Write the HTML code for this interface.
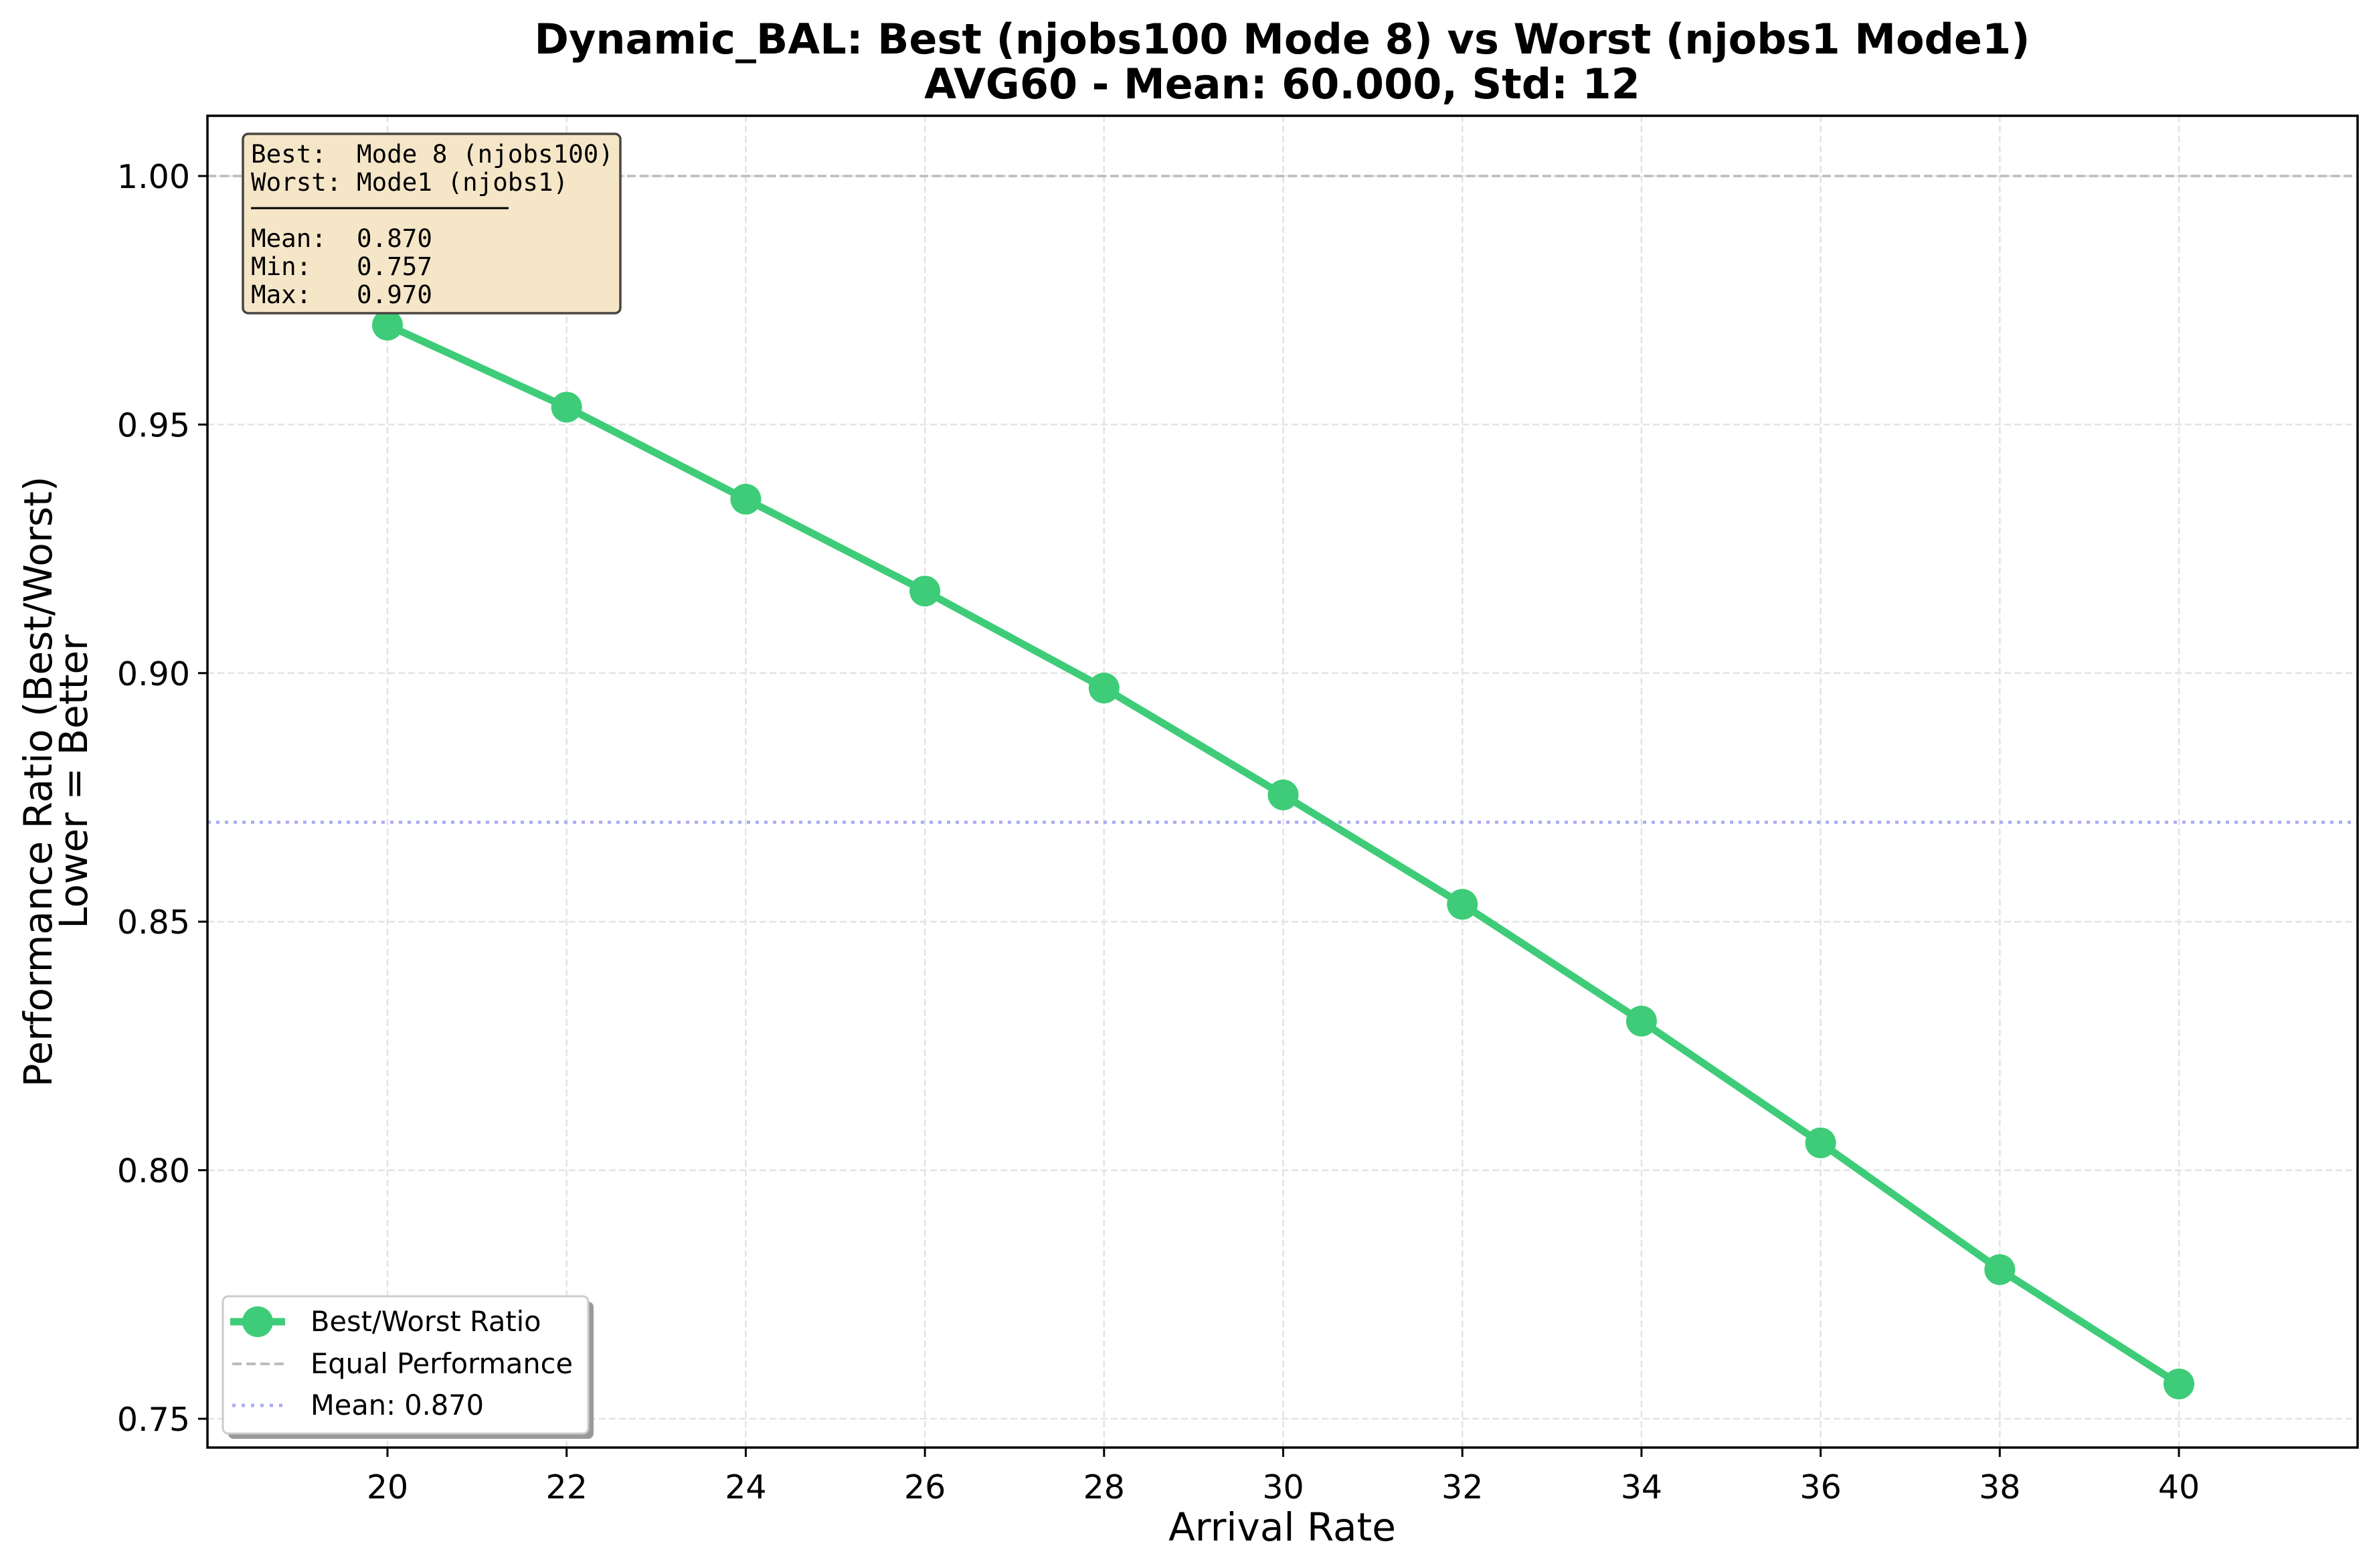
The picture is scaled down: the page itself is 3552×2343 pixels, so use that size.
<!DOCTYPE html>
<html><head><meta charset="utf-8"><style>
html,body{margin:0;padding:0;background:#fff;}
svg{display:block;font-family:"DejaVu Sans","Liberation Sans",sans-serif;}
</style></head><body>
<svg id="chart" width="3552" height="2343" viewBox="0 0 3552 2343" xmlns="http://www.w3.org/2000/svg">
<rect width="3552" height="2343" fill="#fff"/>
<g id="grid"></g>
<g id="refs"></g>
<g id="series"></g>
<rect x="310" y="173" width="3213" height="1990" fill="none" stroke="#000" stroke-width="3.5"/>
<g id="ticks"></g>
<text x="1916" y="80" font-size="62" font-weight="bold" text-anchor="middle">Dynamic_BAL: Best (njobs100 Mode 8) vs Worst (njobs1 Mode1)</text>
<text x="1916" y="147" font-size="62" font-weight="bold" text-anchor="middle">AVG60 - Mean: 60.000, Std: 12</text>
<text x="1916" y="2302" font-size="58" text-anchor="middle">Arrival Rate</text>
<g transform="translate(0,1168) rotate(-90)">
<text x="0" y="77" font-size="58" text-anchor="middle">Performance Ratio (Best/Worst)</text>
<text x="0" y="130" font-size="58" text-anchor="middle">Lower = Better</text>
</g>
<g>
<rect x="363" y="200" width="564" height="268" rx="8" fill="#f5e6c8" stroke="#4a4540" stroke-width="3.5"/>
<g font-family="'DejaVu Sans Mono','Liberation Mono',monospace" font-size="37.5" fill="#000">
<text x="375" y="243" xml:space="preserve">Best:  Mode 8 (njobs100)</text>
<text x="375" y="285" xml:space="preserve">Worst: Mode1 (njobs1)</text>
<line x1="375" y1="311" x2="760" y2="311" stroke="#000" stroke-width="3"/>
<text x="375" y="369" xml:space="preserve">Mean:  0.870</text>
<text x="375" y="411" xml:space="preserve">Min:   0.757</text>
<text x="375" y="453" xml:space="preserve">Max:   0.970</text>
</g>
</g>
<g>
<rect x="341" y="1945" width="546" height="205" rx="8" fill="#999"/>
<rect x="333" y="1937" width="546" height="205" rx="8" fill="#fff" stroke="#ccc" stroke-width="3"/>
<g>
<line x1="344" y1="1975" x2="426" y2="1975" stroke="#3ecc78" stroke-width="11"/>
<circle cx="385" cy="1975" r="23" fill="#3ecc78"/>
<text x="464" y="1989" font-size="41.5">Best/Worst Ratio</text>
</g>
<g>
<line x1="347" y1="2038" x2="430" y2="2038" stroke="#bbb" stroke-width="4" stroke-dasharray="14,7"/>
<text x="464" y="2052" font-size="41.5">Equal Performance</text>
</g>
<g>
<line x1="347" y1="2100" x2="425" y2="2100" stroke="#aaaaf5" stroke-width="5" stroke-dasharray="5,9"/>
<text x="464" y="2114" font-size="41.5">Mean: 0.870</text>
</g>
</g>
<script>
const categories = [20,22,24,26,28,30,32,34,36,38,40];
const ratioValues = [0.970,0.9535,0.935,0.9165,0.897,0.8755,0.8535,0.830,0.8055,0.780,0.757];
const xTicks = [20,22,24,26,28,30,32,34,36,38,40];
const yTicks = [0.75,0.80,0.85,0.90,0.95,1.00];
const yTickLabels = ["0.75","0.80","0.85","0.90","0.95","1.00"];
const meanValue = 0.870;
const equalValue = 1.0;

const NS = "http://www.w3.org/2000/svg";
const L=310,R=3523,T=173,B=2163;
function xs(v){return 579+(v-20)*(3256-579)/20;}
function ys(v){return 263+(1.0-v)*(2120-263)/0.25;}
function mk(tag,attrs,parent){const e=document.createElementNS(NS,tag);for(const k in attrs)e.setAttribute(k,attrs[k]);parent.appendChild(e);return e;}
const grid=document.getElementById('grid'),ticks=document.getElementById('ticks'),refs=document.getElementById('refs'),series=document.getElementById('series');
xTicks.forEach(v=>{
  const g=mk('line',{x1:xs(v),x2:xs(v),y1:T,y2:B,stroke:'#e3e3e3','stroke-width':2.5,'stroke-dasharray':'10,5'},grid);
  
  
  const t=mk('line',{x1:xs(v),x2:xs(v),y1:B,y2:B+14,stroke:'#000','stroke-width':3},ticks);
  
  
  const l=mk('text',{x:xs(v),y:B+76,'font-size':49,'text-anchor':'middle'},ticks);
  l.textContent=String(v);
  
  
});
yTicks.forEach((v,i)=>{
  const g=mk('line',{x1:L,x2:R,y1:ys(v),y2:ys(v),stroke:'#e3e3e3','stroke-width':2.5,'stroke-dasharray':'10,5'},grid);
  
  
  const t=mk('line',{x1:L-14,x2:L,y1:ys(v),y2:ys(v),stroke:'#000','stroke-width':3},ticks);
  
  
  const l=mk('text',{x:L-26,y:ys(v)+18,'font-size':49,'text-anchor':'end'},ticks);
  l.textContent=yTickLabels[i];
  
  
});
const eq=mk('line',{x1:L,x2:R,y1:ys(equalValue),y2:ys(equalValue),stroke:'#bbb','stroke-width':3.5,'stroke-dasharray':'13,6'},refs);


const mn=mk('line',{x1:L,x2:R,y1:ys(meanValue),y2:ys(meanValue),stroke:'#aaaaf5','stroke-width':4.5,'stroke-dasharray':'5,8'},refs);


const pts=categories.map((c,i)=>xs(c)+','+ys(ratioValues[i])).join(' ');
const pl=mk('polyline',{points:pts,fill:'none',stroke:'#3ecc78','stroke-width':11,'stroke-linejoin':'round'},series);


categories.forEach((c,i)=>{
  const p=mk('circle',{cx:xs(c),cy:ys(ratioValues[i]),r:23,fill:'#3ecc78'},series);
  
  
});
</script>
</svg>
</body></html>
